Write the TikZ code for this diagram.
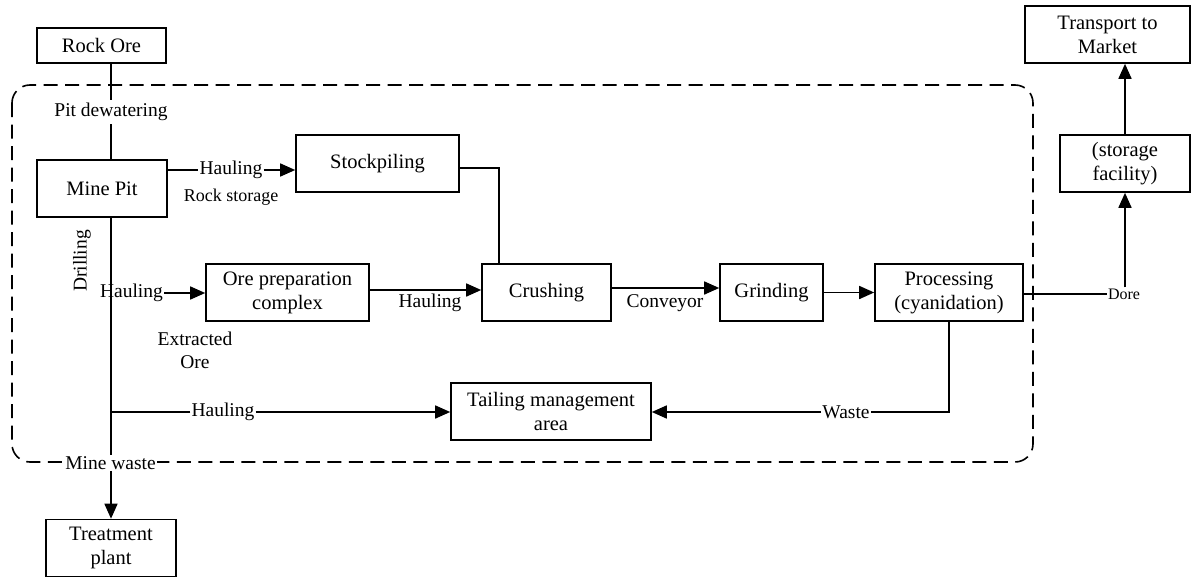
\documentclass[tikz,border=0pt]{standalone}
\usepackage{fontspec}
\setmainfont{Liberation Serif}
\usetikzlibrary{arrows.meta}
\begin{document}
\begin{tikzpicture}[x=1pt,y=-1pt,
  box/.style={draw,line width=1.6pt,inner sep=0pt,align=center,font=\fontsize{20.5}{24}\selectfont},
  lbl/.style={inner sep=1pt,align=center,font=\fontsize{19.5}{23}\selectfont},
  conn/.style={line width=1.6pt},
  arr/.style={line width=1.6pt,-{Triangle[length=15pt,width=13pt]}},
  region/.style={line width=1.6pt,dash pattern=on 14pt off 7.5pt,rounded corners=18pt}]
\useasboundingbox (0,0) rectangle (1197,578);
% region
\draw[region] (12,85) rectangle (1033,462);
% boxes
\node[box,minimum width=129pt,minimum height=35pt] (rock) at (101.5,45.5) {Rock Ore};
\node[box,minimum width=130pt,minimum height=57pt] (mine) at (102,188.5) {Mine Pit};
\node[box,minimum width=163pt,minimum height=57pt] (stock) at (377.5,163.5) {Stockpiling};
\node[box,minimum width=163pt,minimum height=57pt] (prep) at (287.5,292.5) {Ore preparation\\complex};
\node[box,minimum width=129pt,minimum height=57pt] (crush) at (546.5,292.5) {Crushing};
\node[box,minimum width=103pt,minimum height=57pt] (grind) at (771.5,292.5) {Grinding};
\node[box,minimum width=148pt,minimum height=57pt] (proc) at (949,292.5) {Processing\\(cyanidation)};
\node[box,minimum width=200pt,minimum height=57pt] (tail) at (551,411.5) {Tailing management\\area};
\node[box,minimum width=130pt,minimum height=57pt] (treat) at (111,548) {Treatment\\plant};
\node[box,minimum width=130pt,minimum height=57pt] (store) at (1125,163.5) {(storage\\facility)};
\node[box,minimum width=165pt,minimum height=57pt] (market) at (1107.5,34.5) {Transport to\\Market};
% labels
\node[lbl,inner sep=3pt] (pitdw) at (111,112) {Pit dewatering};
\node[lbl] (h1) at (231,170) {Hauling};
\node[lbl,font=\fontsize{18}{21}\selectfont] (rs) at (231,197) {Rock storage};
\node[lbl,rotate=90] (drill) at (82,261) {Drilling};
\node[lbl] (h2) at (131.5,293) {Hauling};
\node[lbl] (exo) at (195,350) {Extracted\\Ore};
\node[lbl] (h3) at (430,303) {Hauling};
\node[lbl] (conv) at (665,303) {Conveyor};
\node[lbl,fill=white] (h4) at (223,412) {Hauling};
\node[lbl,fill=white] (waste) at (846,412) {Waste};
\node[lbl,fill=white] (mw) at (110.5,463) {Mine waste};
\node[lbl,font=\fontsize{16}{19}\selectfont] (dore) at (1124,294) {Dore};
% connectors
\draw[conn] (pitdw.north) -- (pitdw.north |- rock.south);
\draw[conn] (pitdw.south) -- (pitdw.south |- mine.north);
\draw[conn] (mine.east |- h1) -- (h1.west);
\draw[arr] (h1.east) -- (stock.west |- h1);
\draw[conn] ([yshift=-4.5pt]stock.east) -| (crush.north -| 499,0);
\draw[conn] (mine.south -| treat.north) -- (mw.north -| treat.north);
\draw[arr] (mw.south -| treat.north) -- (treat.north);
\draw[arr] (h2.east) -- (prep.west |- h2);
\draw[arr] ([yshift=2.5pt]prep.east) -- ([yshift=2.5pt]crush.west);
\draw[arr] ([yshift=4.5pt]crush.east) -- ([yshift=4.5pt]grind.west);
\draw[arr] (grind.east) -- (proc.west);
\draw[conn] (h4.west) -- (h4.west -| treat.north);
\draw[arr] (h4.east) -- (tail.west |- h4);
\draw[conn] (proc.south) |- (waste.east);
\draw[arr] (waste.west) -- (tail.east |- waste);
\draw[conn] (proc.east |- dore) -- (dore.west);
\draw[arr] (store.south |- dore.north) -- (store.south);
\draw[arr] (store.north) -- (store.north |- market.south);
\end{tikzpicture}
\end{document}
